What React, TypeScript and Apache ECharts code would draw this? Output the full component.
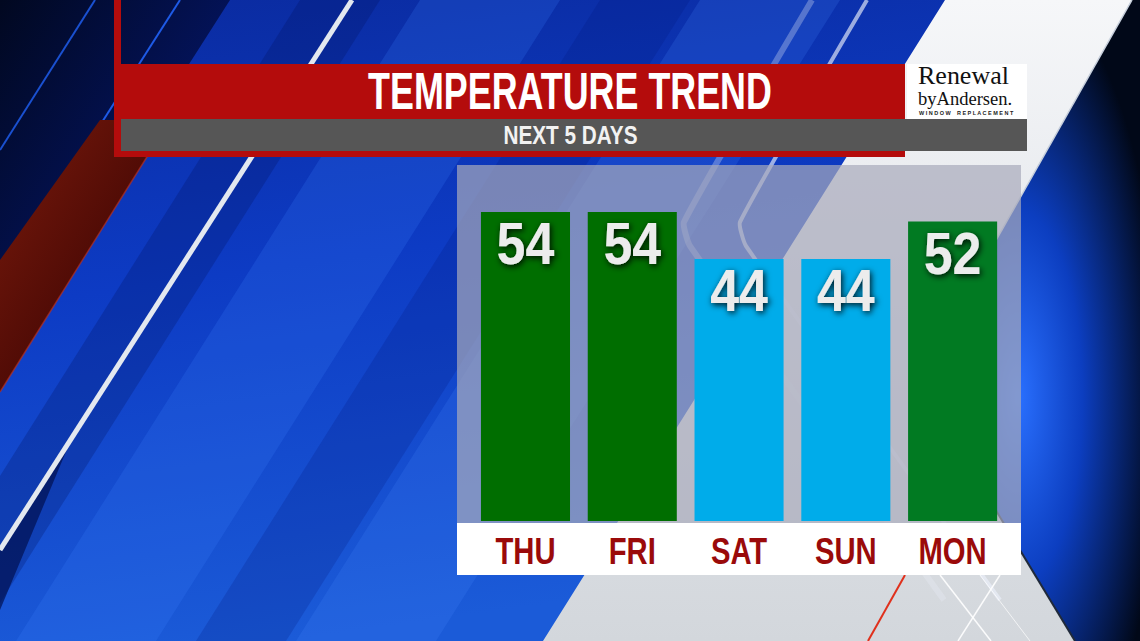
import React, { useEffect, useRef } from "react";
import * as echarts from "echarts";

// ---- data ----
const DAYS = ["THU", "FRI", "SAT", "SUN", "MON"];
const TEMPS = [54, 54, 44, 44, 52];
const TITLE = "TEMPERATURE TREND";
const SUBTITLE = "NEXT 5 DAYS";
const LOGO_LINE1 = "Renewal";
const LOGO_LINE2 = "byAndersen.";
const LOGO_LINE3 = "W I N D O W    R E P L A C E M E N T";
const Y_MIN = -12;
const Y_MAX = 64;

// ---- styles ----
const BAR_COLORS = ["#006e00", "#006e00", "#00acea", "#00acea", "#017a22"];
const BAR_RATIO = 0.834;
const SANS = "'Liberation Sans','Arial',sans-serif";
const SERIF = "'Liberation Serif','DejaVu Serif',serif";
const RED = "#b40c0c";

type Stop = [number, string];
const lin = (x2: number, y2: number, stops: Stop[]) => ({
  type: "linear", x: 0, y: 0, x2, y2, global: false,
  colorStops: stops.map(([offset, color]) => ({ offset, color })),
});

const poly = (points: number[][], fill: any) => ({ type: "polygon", z: 1, silent: true, shape: { points }, style: { fill } });
const seg = (x1: number, y1: number, x2: number, y2: number, stroke: string, lineWidth: number) => ({
  type: "line", z: 1, silent: true, shape: { x1, y1, x2, y2 }, style: { stroke, lineWidth },
});
const box = (x: number, y: number, width: number, height: number, fill: any) => ({
  type: "rect", z: 1, silent: true, shape: { x, y, width, height }, style: { fill },
});
const txt = (x: number, y: number, text: string, style: any, scaleX = 1, align = "center") => ({
  type: "text", z: 2, silent: true, x, y, scaleX,
  style: { text, align, verticalAlign: "middle", textAlign: align, textVerticalAlign: "middle", ...style },
});

function buildGraphic() {
  return [
    // base
    box(0, 0, 1140, 641, lin(0.25, 1, [[0, "#0a2a9e"], [0.45, "#0d3bc4"], [1, "#1b5bd8"]])),
    // diagonal bands
    poly([[420, 0], [560, 0], [156, 641], [16, 641]], "rgba(60,130,255,0.20)"),
    poly([[600, 0], [690, 0], [286, 641], [196, 641]], "rgba(0,20,120,0.20)"),
    poly([[700, 0], [840, 0], [436, 641], [296, 641]], "rgba(70,140,255,0.18)"),
    poly([[300, 0], [380, 0], [-24, 641], [-104, 641]], "rgba(0,15,90,0.25)"),
    // dark top-left
    poly([[0, 0], [230, 0], [0, 360]], lin(1, 1, [[0, "#010820"], [0.6, "#041460"], [1, "rgba(10,40,150,0.6)"]])),
    seg(180, 0, 0, 282, "#1e5ae6", 2),
    seg(95, 0, 0, 150, "#1a50d0", 2),
    // dark lower-left
    poly([[75, 430], [0, 548], [0, 610]], "rgba(2,15,80,0.7)"),
    // red-brown band
    poly([[100, 120], [170, 120], [0, 392], [0, 260]], lin(1, 1, [[0, "#7a1a0c"], [0.5, "#520c06"], [1, "#2e0604"]])),
    seg(170, 120, 0, 392, "rgba(200,50,25,0.6)", 1.5),
    // white diagonal stripe
    seg(352, 0, 0, 550, "#e3e8ef", 5),
    // light region
    poly([[945, 0], [1132, 0], [917, 380], [1075, 641], [543, 641]],
      lin(0, 1, [[0, "#f6f7f9"], [0.5, "#e2e5ea"], [1, "#d3d7dc"]])),
    // chevron stripes
    { type: "polyline", z: 1, silent: true, shape: { points: [[867, 0], [740, 222], [746, 246], [1000, 600]], smooth: 0.15 }, style: { stroke: "rgba(235,240,250,0.65)", lineWidth: 4, fill: "none" } },
    { type: "polyline", z: 1, silent: true, shape: { points: [[812, 0], [684, 222], [690, 246], [944, 600]], smooth: 0.15 }, style: { stroke: "rgba(235,240,250,0.3)", lineWidth: 6, fill: "none" } },
    // right dark region
    poly([[1132, 0], [1140, 0], [1140, 641], [1075, 641], [917, 380]],
      { type: "radial", x: 0.45, y: 0.62, r: 0.65, colorStops: [{ offset: 0, color: "#2a70ff" }, { offset: 0.45, color: "#0c3ec0" }, { offset: 1, color: "#010818" }] }),
    seg(917, 380, 1075, 641, "#202a3a", 2),
    seg(1132, 0, 917, 380, "#c8d0dc", 1.5),
    // bottom decorative lines
    seg(905, 575, 868, 641, "#e0301c", 2),
    seg(940, 575, 991, 641, "rgba(255,255,255,0.9)", 1.5),
    seg(1000, 575, 958, 641, "rgba(255,255,255,0.9)", 1.5),
    seg(980, 575, 1030, 641, "rgba(255,255,255,0.7)", 1),
    // header
    box(114, 0, 7, 157, RED),
    box(114, 64, 791, 55, RED),
    box(114, 151, 791, 6, RED),
    box(121, 119, 906, 32, "#565656"),
    box(907, 64, 120, 55, "#ffffff"),
    // panel
    box(457, 165, 564, 358, "rgba(168,170,186,0.7)"),
    box(457, 523, 564, 52, "#ffffff"),
    // texts
    txt(570, 90.5, TITLE, { fill: "#ffffff", fontFamily: SANS, fontWeight: "bold", fontSize: 52 }, 0.69),
    txt(570.5, 135, SUBTITLE, { fill: "#f2f2f2", fontFamily: SANS, fontWeight: "bold", fontSize: 25.6 }, 0.81),
    txt(918, 76, LOGO_LINE1, { fill: "#111111", fontFamily: SERIF, fontSize: 25, lineHeight: 25 }, 1.04, "left"),
    txt(918, 99.5, LOGO_LINE2, { fill: "#111111", fontFamily: SERIF, fontSize: 18, lineHeight: 18 }, 1.03, "left"),
    txt(919, 113, LOGO_LINE3, { fill: "#222222", fontFamily: SANS, fontWeight: "bold", fontSize: 5.5, lineHeight: 5.5 }, 1, "left"),
  ];
}

export default function App() {
  const ref = useRef<HTMLDivElement>(null);
  useEffect(() => {
    if (!ref.current) return;
    const chart = echarts.init(ref.current, undefined, { renderer: "svg" });
    const option: any = {
      animation: false,
      grid: { left: 472.1, right: 134, top: 165.3, bottom: 120, containLabel: false },
      xAxis: {
        type: "category", data: DAYS,
        axisLine: { show: false }, axisTick: { show: false }, splitLine: { show: false },
        axisLabel: { show: false },
      },
      yAxis: { type: "value", min: Y_MIN, max: Y_MAX, show: false },
      graphic: { elements: buildGraphic() },
      series: [{
        type: "custom", z: 5,
        data: TEMPS.map((v, i) => [i, v]),
        encode: { x: 0, y: 1 },
        renderItem: (params: any, api: any) => {
          const i = params.dataIndex;
          const v = api.value(1);
          const top = api.coord([api.value(0), v]);
          const base = api.coord([api.value(0), Y_MIN]);
          const w = api.size([1, 0])[0] * BAR_RATIO;
          return {
            type: "group",
            children: [
              { type: "rect", shape: { x: top[0] - w / 2, y: top[1], width: w, height: base[1] - top[1] }, style: { fill: BAR_COLORS[i] } },
              {
                type: "text", x: top[0], y: top[1] + 32, scaleX: 0.88,
                style: {
                  text: String(v), fill: "#ececec", fontFamily: SANS, fontWeight: "bold", fontSize: 59,
                  align: "center", verticalAlign: "middle", textAlign: "center", textVerticalAlign: "middle",
                  textShadowColor: "rgba(0,0,0,0.9)", textShadowBlur: 6, textShadowOffsetX: 1.5, textShadowOffsetY: 2,
                },
              },
              {
                type: "text", x: top[0], y: base[1] + 30, scaleX: 0.78,
                style: {
                  text: DAYS[i], fill: "#9a0a0a", fontFamily: SANS, fontWeight: "bold", fontSize: 37.5,
                  align: "center", verticalAlign: "middle", textAlign: "center", textVerticalAlign: "middle",
                },
              },
            ],
          };
        },
      }],
    };
    chart.setOption(option);
    return () => chart.dispose();
  }, []);
  return <div ref={ref} style={{ position: "absolute", left: 0, top: 0, width: 1140, height: 641 }} />;
}
